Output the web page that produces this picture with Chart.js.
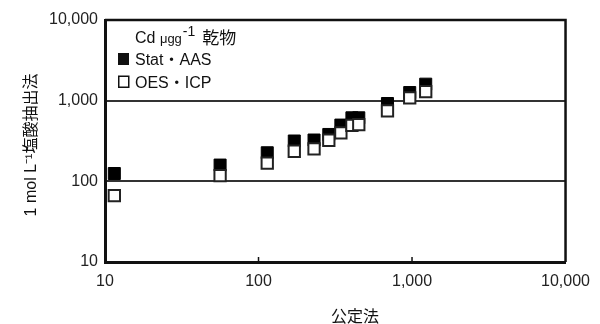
<!DOCTYPE html>
<html>
<head>
<meta charset="utf-8">
<script src="https://cdn.jsdelivr.net/npm/chart.js@4.4.1/dist/chart.umd.min.js"></script>
<style>
  html, body { margin: 0; padding: 0; background: #fff; }
  #wrap { width: 600px; height: 324px; }
</style>
</head>
<body>
<div id="wrap"><canvas id="chart" width="600" height="324"></canvas></div>
<script>
// Cd: 公定法 vs 1 mol/L 塩酸抽出法, log-log scatter

const AXIS_TICKS = [10, 100, 1000, 10000];
const GRID_VALUES = [100, 1000];

// 公定法 (x) shared by both series
const officialX = [11.5, 56.2, 114, 171, 230, 287, 344, 406, 450, 692, 966, 1228];
// 塩酸抽出法 results
const statAAS = [125, 159, 226, 316, 325, 381, 498, 613, 613, 922, 1261, 1601];
const oesICP  = [66.5, 117.5, 168, 236, 253, 323, 398, 495, 505, 748, 1084, 1297];

const LATIN = "'Liberation Sans', Arial, 'Noto Sans CJK JP', sans-serif";
const CJK = "'Noto Sans CJK JP', 'Liberation Sans', sans-serif";
const INK = '#111';

const toPoints = ys => officialX.map((x, i) => ({ x, y: ys[i] }));
const fmt = v => Number(v).toLocaleString('en-US');

// frame, inward x ticks, legend and axis titles
const extras = {
  id: 'extras',
  afterDraw(chart) {
    const { ctx, chartArea: a, scales: { x } } = chart;
    ctx.save();

    ctx.strokeStyle = INK;
    ctx.lineWidth = 2.5;
    ctx.beginPath();
    ctx.moveTo(a.left, a.top);
    ctx.lineTo(a.right, a.top);
    ctx.lineTo(a.right, a.bottom);
    ctx.stroke();

    ctx.lineWidth = 1.5;
    GRID_VALUES.forEach(v => {
      const px = x.getPixelForValue(v);
      ctx.beginPath();
      ctx.moveTo(px, a.bottom);
      ctx.lineTo(px, a.bottom - 5);
      ctx.stroke();
    });

    // legend
    ctx.fillStyle = INK;
    ctx.textBaseline = 'alphabetic';
    ctx.textAlign = 'left';
    let tx = a.left + 30;
    const ty = a.top + 23;
    ctx.font = `16px ${LATIN}`;
    ctx.fillText('Cd', tx, ty);
    tx += ctx.measureText('Cd ').width;
    ctx.font = `13px ${LATIN}`;
    ctx.fillText('μgg', tx, ty);
    tx += ctx.measureText('μgg').width + 1;
    ctx.font = `14px ${LATIN}`;
    ctx.fillText('-1', tx, ty - 7);
    tx += ctx.measureText('-1').width + 7;
    ctx.font = `17px ${CJK}`;
    ctx.fillText('乾物', tx, ty + 1);

    const rows = [
      { text: 'Stat・AAS', filled: true, base: a.top + 45 },
      { text: 'OES・ICP', filled: false, base: a.top + 67.5 }
    ];
    rows.forEach(r => {
      const bx = a.left + 13, by = r.base - 12;
      if (r.filled) {
        ctx.fillRect(bx, by, 11, 12);
      } else {
        ctx.lineWidth = 1.5;
        ctx.strokeRect(bx + 0.75, by + 0.75, 10, 11);
      }
      ctx.font = `16px ${LATIN}`;
      ctx.fillText(r.text, a.left + 30, r.base);
    });

    // axis titles
    ctx.textAlign = 'center';
    ctx.textBaseline = 'middle';
    ctx.font = `16px ${CJK}`;
    ctx.fillText('公定法', 355, 316);

    ctx.translate(32, 145);
    ctx.rotate(-Math.PI / 2);
    ctx.font = `16px ${LATIN}`;
    ctx.fillText('1 mol L⁻¹塩酸抽出法', 0, 0);

    ctx.restore();
  }
};

new Chart(document.getElementById('chart'), {
  type: 'scatter',
  data: {
    datasets: [
      {
        label: 'Stat・AAS',
        data: toPoints(statAAS),
        order: 1,
        pointStyle: 'rect',
        pointRadius: 8.5,
        backgroundColor: '#000',
        borderColor: '#000',
        borderWidth: 1
      },
      {
        label: 'OES・ICP',
        data: toPoints(oesICP),
        order: 0,
        pointStyle: 'rect',
        pointRadius: 8,
        backgroundColor: '#fff',
        borderColor: '#222',
        borderWidth: 2
      }
    ]
  },
  options: {
    responsive: false,
    animation: false,
    layout: { padding: { top: 20, right: 25, left: 0, bottom: 0 } },
    plugins: {
      legend: { display: false },
      tooltip: { enabled: false }
    },
    scales: {
      x: {
        type: 'logarithmic',
        min: 10,
        max: 10000,
        afterBuildTicks: s => { s.ticks = AXIS_TICKS.map(v => ({ value: v })); },
        afterFit: s => { s.height = 62; },
        grid: { display: false, drawTicks: false },
        border: { display: true, color: INK, width: 3 },
        ticks: {
          callback: fmt,
          color: '#222',
          padding: 10,
          maxRotation: 0,
          autoSkip: false,
          font: { family: LATIN, size: 16 }
        }
      },
      y: {
        type: 'logarithmic',
        min: 10,
        max: 10000,
        afterBuildTicks: s => { s.ticks = AXIS_TICKS.map(v => ({ value: v })); },
        afterFit: s => { s.width = 105; },
        grid: {
          drawTicks: false,
          lineWidth: 2,
          color: c => GRID_VALUES.includes(c.tick && c.tick.value) ? '#333' : 'rgba(0,0,0,0)'
        },
        border: { display: true, color: INK, width: 3 },
        ticks: {
          callback: fmt,
          color: '#222',
          padding: 7,
          autoSkip: false,
          font: { family: LATIN, size: 16 }
        }
      }
    }
  },
  plugins: [extras]
});
</script>
</body>
</html>
